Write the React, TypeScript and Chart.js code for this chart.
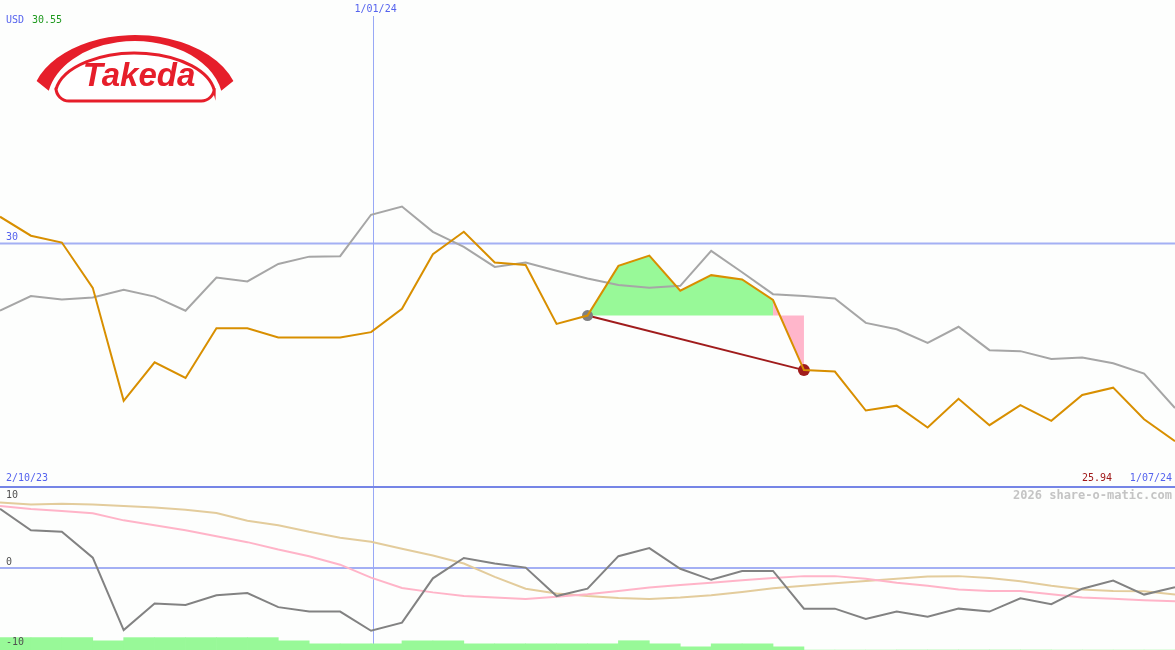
import React, { useEffect, useRef } from "react";
import { Chart, registerables } from "chart.js";

Chart.register(...registerables);

// ---------- data ----------
const startLabel = "2/10/23";
const endLabel = "1/07/24";
const midDateLabel = "1/01/24";
const midDateIndex = 12.05; // position of 1/01/24 on the weekly index axis
const currency = "USD";

const price = [
  30.55, 30.16, 30.02, 29.09, 26.77, 27.56, 27.24, 28.26, 28.26, 28.07,
  28.07, 28.07, 28.18, 28.66, 29.78, 30.24, 29.61, 29.56, 28.35, 28.52,
  29.54, 29.75, 29.03, 29.35, 29.26, 28.84, 27.40, 27.37, 26.57, 26.67,
  26.22, 26.81, 26.27, 26.68, 26.36, 26.89, 27.04, 26.39, 25.94,
];

const benchmark = [
  28.62, 28.92, 28.85, 28.89, 29.05, 28.91, 28.62, 29.30, 29.22, 29.58,
  29.73, 29.74, 30.59, 30.76, 30.24, 29.93, 29.52, 29.61, 29.44, 29.28,
  29.15, 29.09, 29.13, 29.85, 29.41, 28.96, 28.92, 28.87, 28.37, 28.24,
  27.96, 28.29, 27.81, 27.79, 27.63, 27.66, 27.54, 27.33, 26.62,
];

const momentum = [
  8.0, 5.1, 4.9, 1.4, -8.4, -4.8, -5.0, -3.7, -3.4, -5.3,
  -5.9, -5.9, -8.5, -7.4, -1.4, 1.35, 0.6, 0.05, -3.8, -2.8,
  1.6, 2.7, -0.1, -1.6, -0.4, -0.4, -5.5, -5.5, -6.9, -5.9,
  -6.6, -5.5, -5.9, -4.1, -4.9, -2.8, -1.7, -3.6, -2.6,
];

const fastAvg = [
  8.4, 8.0, 7.7, 7.4, 6.45, 5.8, 5.1, 4.3, 3.5, 2.5,
  1.6, 0.45, -1.3, -2.7, -3.3, -3.8, -4.0, -4.2, -3.9, -3.55,
  -3.1, -2.65, -2.3, -2.0, -1.65, -1.35, -1.1, -1.1, -1.45, -2.0,
  -2.4, -2.9, -3.1, -3.1, -3.55, -4.0, -4.15, -4.35, -4.5,
];

const slowAvg = [
  8.85, 8.6, 8.7, 8.6, 8.4, 8.2, 7.9, 7.45, 6.4, 5.8,
  4.9, 4.1, 3.55, 2.6, 1.7, 0.6, -1.2, -2.8, -3.45, -3.8,
  -4.05, -4.2, -4.0, -3.7, -3.25, -2.75, -2.4, -2.05, -1.75, -1.45,
  -1.15, -1.1, -1.35, -1.8, -2.4, -2.9, -3.1, -3.15, -3.6,
];

const volume = [
  4, 4, 4, 3, 4, 4, 4, 4, 4, 3,
  2, 2, 2, 3, 3, 2, 2, 2, 2, 2,
  3, 2, 1, 2, 2, 1, 0, 0, 0, 0,
  0, 0, 0, 0, 0, 0, 0, 0, 0,
];

const entryIndex = 19;
const exitIndex = 26;
const priceRefLine = 30;
const oscTicks = [10, 0, -10];

// ---------- styles ----------
const W = 1175;
const TOP_H = 487;
const BOT_TOP = 486;
const BOT_H = 164;
const BG = "#fdfefd";
const FONT = "10px 'DejaVu Sans Mono', monospace";
const BLUE_TXT = "#5563ee";
const GRID = "#a4b0f4";
const VLINE = "#98a8f6";
const SEP = "#7585e6";

const pts = (arr: number[], start = 0) => arr.map((v, i) => ({ x: start + i, y: v }));

function drawLogo(ctx: CanvasRenderingContext2D) {
  const red = "#e61e2a";
  ctx.save();
  // arc band
  ctx.beginPath();
  ctx.ellipse(135, 103, 104, 68, 0, Math.PI + 0.33, 2 * Math.PI - 0.33, false);
  ctx.ellipse(135, 103, 88, 62, 0, 2 * Math.PI - 0.2, Math.PI + 0.2, true);
  ctx.closePath();
  ctx.fillStyle = red;
  ctx.fill();
  // pill
  ctx.beginPath();
  ctx.ellipse(135, 96, 80, 43, 0, Math.PI + 0.14, 2 * Math.PI - 0.14, false);
  ctx.arcTo(214, 101, 201, 101, 13);
  ctx.lineTo(69, 101);
  ctx.arcTo(56, 101, 56, 88, 13);
  ctx.closePath();
  ctx.fillStyle = "#ffffff";
  ctx.fill();
  ctx.lineWidth = 3;
  ctx.strokeStyle = red;
  ctx.stroke();
  // word mark
  ctx.fillStyle = red;
  ctx.font = "italic bold 33px 'Liberation Sans', Arial, sans-serif";
  ctx.textAlign = "center";
  ctx.textBaseline = "alphabetic";
  ctx.fillText("Takeda", 139, 86);
  ctx.restore();
}

const topPlugin = {
  id: "topDecor",
  beforeDatasetsDraw(chart: any) {
    const { ctx, scales } = chart;
    const y30 = scales.y.getPixelForValue(priceRefLine);
    const xd = Math.round(scales.x.getPixelForValue(midDateIndex)) + 0.5;
    ctx.save();
    ctx.strokeStyle = GRID;
    ctx.lineWidth = 2;
    ctx.beginPath();
    ctx.moveTo(0, y30);
    ctx.lineTo(W, y30);
    ctx.stroke();
    ctx.strokeStyle = VLINE;
    ctx.lineWidth = 1;
    ctx.beginPath();
    ctx.moveTo(xd, 16);
    ctx.lineTo(xd, TOP_H);
    ctx.stroke();
    ctx.restore();
  },
  afterDatasetsDraw(chart: any) {
    const { ctx, scales } = chart;
    const y30 = scales.y.getPixelForValue(priceRefLine);
    const xd = scales.x.getPixelForValue(midDateIndex);
    drawLogo(ctx);
    ctx.save();
    ctx.font = FONT;
    ctx.textBaseline = "middle";
    ctx.textAlign = "left";
    ctx.fillStyle = BLUE_TXT;
    ctx.fillText(currency, 6, 20);
    ctx.fillStyle = "#1f9a1f";
    ctx.fillText(price[0].toFixed(2), 32, 20);
    ctx.fillStyle = BLUE_TXT;
    ctx.fillText(String(priceRefLine), 6, y30 - 6);
    ctx.fillText(startLabel, 6, 478);
    ctx.textAlign = "center";
    ctx.fillText(midDateLabel, xd + 3, 9);
    ctx.textAlign = "right";
    ctx.fillText(endLabel, 1172, 478);
    ctx.fillStyle = "#a01818";
    ctx.fillText(price[price.length - 1].toFixed(2), 1112, 478);
    ctx.restore();
  },
};

const botPlugin = {
  id: "botDecor",
  beforeDatasetsDraw(chart: any) {
    const { ctx, scales } = chart;
    const y0 = scales.y.getPixelForValue(0);
    const xd = Math.round(scales.x.getPixelForValue(midDateIndex)) + 0.5;
    ctx.save();
    ctx.strokeStyle = GRID;
    ctx.lineWidth = 2;
    ctx.beginPath();
    ctx.moveTo(0, y0);
    ctx.lineTo(W, y0);
    ctx.stroke();
    ctx.strokeStyle = VLINE;
    ctx.lineWidth = 1;
    ctx.beginPath();
    ctx.moveTo(xd, 0);
    ctx.lineTo(xd, BOT_H);
    ctx.stroke();
    ctx.restore();
  },
  afterDatasetsDraw(chart: any) {
    const { ctx, scales } = chart;
    ctx.save();
    ctx.strokeStyle = SEP;
    ctx.lineWidth = 2;
    ctx.beginPath();
    ctx.moveTo(0, 1);
    ctx.lineTo(W, 1);
    ctx.stroke();
    ctx.font = FONT;
    ctx.fillStyle = "#505050";
    ctx.textAlign = "left";
    oscTicks.forEach((t) => {
      const y = scales.y.getPixelForValue(t);
      if (t === 0) {
        ctx.textBaseline = "bottom";
        ctx.fillText(String(t), 6, y - 1);
      } else {
        ctx.textBaseline = "middle";
        ctx.fillText(String(t), 6, y + 1);
      }
    });
    ctx.font = "bold 12px 'DejaVu Sans Mono', monospace";
    ctx.fillStyle = "#c4c4c4";
    ctx.textAlign = "right";
    ctx.textBaseline = "middle";
    ctx.fillText("2026 share-o-matic.com", 1172, 10);
    ctx.restore();
  },
};

const baseOptions = (yScales: any) => ({
  animation: false as const,
  responsive: false,
  maintainAspectRatio: false,
  events: [] as any[],
  layout: { padding: 0, autoPadding: false },
  plugins: { legend: { display: false }, tooltip: { enabled: false } },
  elements: { point: { radius: 0 }, line: { tension: 0 } },
  scales: {
    x: { type: "linear", min: 0, max: price.length - 1, display: false, offset: false },
    ...yScales,
  },
});

export default function App() {
  const topRef = useRef<HTMLCanvasElement>(null);
  const botRef = useRef<HTMLCanvasElement>(null);

  useEffect(() => {
    const entry = price[entryIndex];
    const top = new Chart(topRef.current as HTMLCanvasElement, {
      type: "line",
      data: {
        datasets: [
          {
            data: pts(price),
            borderColor: "#d88f00",
            borderWidth: 2,
            pointRadius: 0,
            order: 0,
            clip: false,
          } as any,
          {
            data: [
              { x: entryIndex, y: price[entryIndex] },
              { x: exitIndex, y: price[exitIndex] },
            ],
            borderColor: "#a01c1c",
            borderWidth: 2,
            pointRadius: [5.5, 6],
            pointBackgroundColor: ["#808080", "#a01c1c"],
            pointBorderWidth: 0,
            order: 1,
            clip: false,
          } as any,
          {
            data: pts(benchmark),
            borderColor: "#a6a6a6",
            borderWidth: 2,
            pointRadius: 0,
            order: 2,
            clip: false,
          } as any,
          {
            data: pts(price.slice(entryIndex, exitIndex), entryIndex),
            borderWidth: 0,
            borderColor: "rgba(0,0,0,0)",
            backgroundColor: "#98f998",
            fill: { value: entry },
            pointRadius: 0,
            order: 3,
          },
          {
            data: pts(price.slice(exitIndex - 1, exitIndex + 1), exitIndex - 1),
            borderWidth: 0,
            borderColor: "rgba(0,0,0,0)",
            backgroundColor: "#ffb6cb",
            fill: { value: entry },
            pointRadius: 0,
            order: 4,
          },
        ],
      },
      options: baseOptions({
        y: { type: "linear", min: 25, max: 35, display: false },
      }) as any,
      plugins: [topPlugin],
    });

    const bot = new Chart(botRef.current as HTMLCanvasElement, {
      type: "line",
      data: {
        datasets: [
          {
            data: pts(momentum),
            borderColor: "#828282",
            borderWidth: 2,
            pointRadius: 0,
            order: 0,
            clip: false,
          } as any,
          {
            data: pts(fastAvg),
            borderColor: "#ffb4c8",
            borderWidth: 2,
            pointRadius: 0,
            order: 1,
            clip: false,
          } as any,
          {
            data: pts(slowAvg),
            borderColor: "#e3cc9c",
            borderWidth: 2,
            pointRadius: 0,
            order: 2,
            clip: false,
          } as any,
          {
            type: "bar",
            data: volume.map((v, i) => ({ x: i + 0.5, y: v })),
            backgroundColor: "#98f998",
            borderWidth: 0,
            barPercentage: 1,
            categoryPercentage: 1,
            yAxisID: "yv",
            order: 3,
          } as any,
        ],
      },
      options: baseOptions({
        y: { type: "linear", min: -11.1, max: 11.1, display: false },
        yv: { type: "linear", min: 0, max: 53, display: false },
      }) as any,
      plugins: [botPlugin],
    });

    return () => {
      top.destroy();
      bot.destroy();
    };
  }, []);

  return (
    <div
      style={{
        position: "fixed",
        left: 0,
        top: 0,
        width: W,
        height: 650,
        background: BG,
        overflow: "hidden",
      }}
    >
      <canvas
        ref={topRef}
        width={W}
        height={TOP_H}
        style={{ position: "absolute", left: 0, top: 0, width: W, height: TOP_H }}
      />
      <canvas
        ref={botRef}
        width={W}
        height={BOT_H}
        style={{ position: "absolute", left: 0, top: BOT_TOP, width: W, height: BOT_H }}
      />
    </div>
  );
}
